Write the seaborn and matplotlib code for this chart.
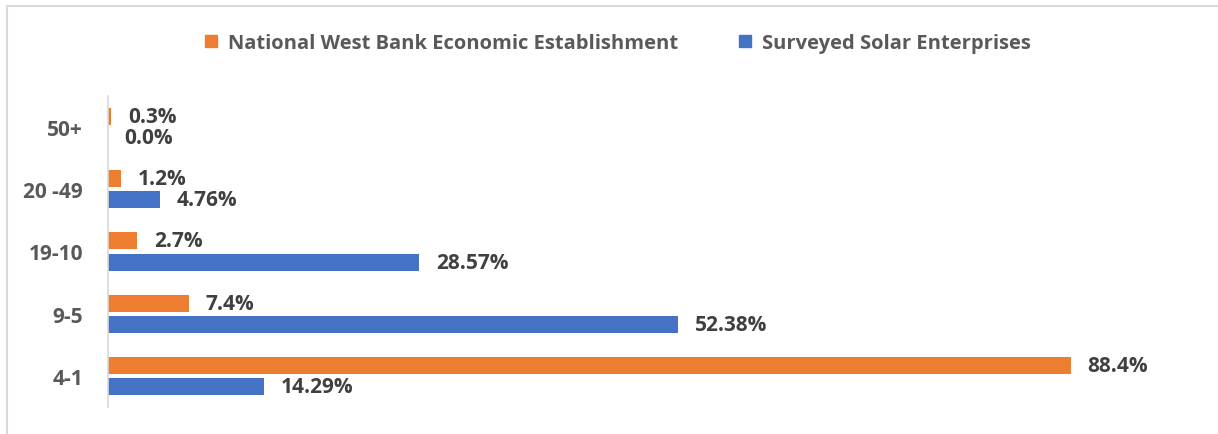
import matplotlib
matplotlib.use("Agg")
import matplotlib.pyplot as plt
import pandas as pd
import seaborn as sns
from matplotlib.patches import Rectangle

# Enterprise size bands (number of workers), top to bottom
categories = ["50+", "20 -49", "19-10", "9-5", "4-1"]
series_names = ["National West Bank Economic Establishment", "Surveyed Solar Enterprises"]
west_bank = [0.3, 1.2, 2.7, 7.4, 88.4]
solar = [0.0, 4.76, 28.57, 52.38, 14.29]
west_bank_labels = ["0.3%", "1.2%", "2.7%", "7.4%", "88.4%"]
solar_labels = ["0.0%", "4.76%", "28.57%", "52.38%", "14.29%"]

colors = ["#ED7D31", "#4472C4"]

df = pd.DataFrame({
    "size": categories * 2,
    "share": west_bank + solar,
    "series": [series_names[0]] * len(categories) + [series_names[1]] * len(categories),
})

sns.set_theme(style="white")
plt.rcParams["font.family"] = ["Open Sans", "DejaVu Sans"]

W, H = 1218, 435
fig = plt.figure(figsize=(W / 100, H / 100), dpi=100)
ax = fig.add_axes([108 / W, (H - 408) / H, 1089 / W, 311 / H])

sns.barplot(
    data=df, y="size", x="share", hue="series", order=categories,
    hue_order=series_names, palette=colors, orient="h", width=0.68,
    saturation=1, ax=ax, legend=False, edgecolor="none",
)

# Thin the bars a little so a small gap separates each pair
bar_h = 0.275
for p in ax.patches:
    c = p.get_y() + p.get_height() / 2
    p.set_height(bar_h)
    p.set_y(c - bar_h / 2)

ax.set_xlim(0, 100)
ax.set_ylim(4.5, -0.5)
ax.set_xlabel("")
ax.set_ylabel("")
ax.set_xticks([])
for s in ["top", "right", "bottom"]:
    ax.spines[s].set_visible(False)
ax.spines["left"].set_color("#D9D9D9")
ax.spines["left"].set_linewidth(1.2)
ax.tick_params(axis="y", length=0, pad=18)
for t in ax.get_yticklabels():
    t.set_fontsize(15)
    t.set_fontweight("bold")
    t.set_color("#595959")

# Value labels at the end of each bar
for container, labels in zip(ax.containers, [west_bank_labels, solar_labels]):
    ax.bar_label(container, labels=labels, padding=12, fontsize=15,
                 fontweight="bold", color="#404040")

# Legend centred above the plot
handles = [Rectangle((0, 0), 1, 1, color=c) for c in colors]
fig.legend(handles, series_names, loc="center", bbox_to_anchor=(618 / W, 1 - 44 / H),
           ncol=2, frameon=False, handlelength=0.6, handleheight=0.6,
           handletextpad=0.55, columnspacing=3.0,
           prop={"size": 14.5, "weight": "bold"}, labelcolor="#595959")

# Chart-area border (top and left edges visible)
fig.patches.append(Rectangle((7 / W, -0.1), 1.2, 1 - 7 / H + 0.1, transform=fig.transFigure,
                             fill=False, edgecolor="#D9D9D9", linewidth=1.5))

fig.savefig("out.png", dpi=100)
